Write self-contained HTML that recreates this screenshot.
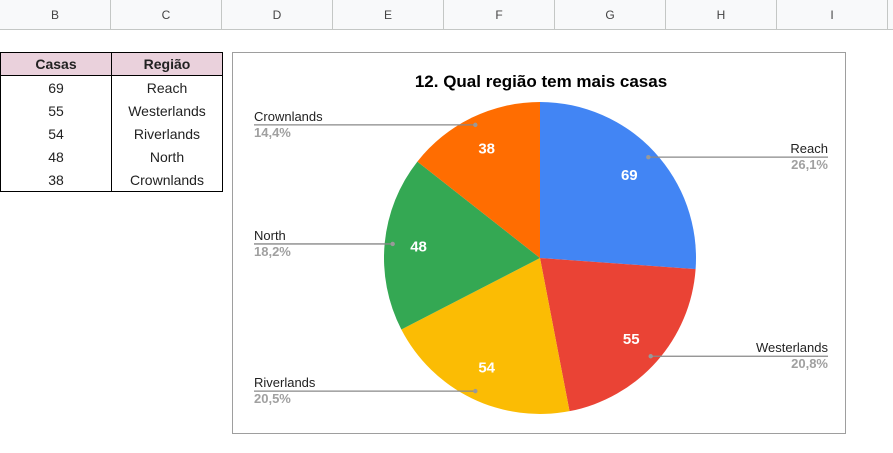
<!DOCTYPE html>
<html><head><meta charset="utf-8"><style>
body{margin:0;width:893px;height:453px;overflow:hidden;background:#fff;font-family:"Liberation Sans",Arial,sans-serif;position:relative}
.colhdr{position:absolute;top:0;left:0;height:29px;width:893px;background:#f8f9fa;border-bottom:1px solid #c4c7c5}
.colhdr div{position:absolute;top:0;height:29px;line-height:30px;text-align:center;font-size:12px;color:#444;border-right:1px solid #c4c7c5;width:110px}
table{position:absolute;left:0;top:52px;border-collapse:collapse;font-size:14px}
td{width:110px;height:23px;text-align:center;padding:0;border-left:1px solid #000;border-right:1px solid #000;color:#222}
tr.h td{background:#ead1dc;font-weight:bold;border:1px solid #000;height:22px}
tr:last-child td{border-bottom:1px solid #000}
#chart{position:absolute;left:232px;top:52px;width:612px;height:380px;border:1px solid #9e9e9e}
</style></head><body>
<div class="colhdr">
<div style="left:0">B</div>
<div style="left:111px">C</div>
<div style="left:222px">D</div>
<div style="left:333px">E</div>
<div style="left:444px">F</div>
<div style="left:555px">G</div>
<div style="left:666px">H</div>
<div style="left:777px">I</div>
</div>
<table>
<tr class="h"><td>Casas</td><td>Região</td></tr>
<tr><td>69</td><td>Reach</td></tr>
<tr><td>55</td><td>Westerlands</td></tr>
<tr><td>54</td><td>Riverlands</td></tr>
<tr><td>48</td><td>North</td></tr>
<tr><td>38</td><td>Crownlands</td></tr>
</table>
<div id="chart">
<svg id="svg" width="612" height="380" xmlns="http://www.w3.org/2000/svg">
<text x="308" y="34" text-anchor="middle" font-size="17" font-weight="bold" fill="#000">12. Qual região tem mais casas</text>
</svg>
</div>
<script>
const categories=["Reach","Westerlands","Riverlands","North","Crownlands"];
const values=[69,55,54,48,38];
const colors=["#4285f4","#ea4335","#fbbc04","#34a853","#ff6d01"];
const svg=document.getElementById('svg');
const NS="http://www.w3.org/2000/svg";
const cx=307,cy=205,R=156;
const total=values.reduce((a,b)=>a+b,0);
function pt(a,r){return [cx+r*Math.sin(a),cy-r*Math.cos(a)];}
let acc=0;
values.forEach((v,i)=>{
  const a0=acc/total*2*Math.PI;acc+=v;const a1=acc/total*2*Math.PI;
  const p0=pt(a0,R),p1=pt(a1,R);
  const path=document.createElementNS(NS,'path');
  path.setAttribute('d',`M${cx},${cy}L${p0[0]},${p0[1]}A${R},${R} 0 ${a1-a0>Math.PI?1:0} 1 ${p1[0]},${p1[1]}Z`);
  path.setAttribute('fill',colors[i]);
  
  
  svg.appendChild(path);
  const am=(a0+a1)/2;
  const lp=pt(am,122);
  const t=document.createElementNS(NS,'text');
  t.setAttribute('x',lp[0]);t.setAttribute('y',lp[1]+5);
  t.setAttribute('text-anchor','middle');t.setAttribute('font-size','15');t.setAttribute('font-weight','bold');t.setAttribute('fill','#fff');
  t.textContent=v;
  
  
  svg.appendChild(t);
  const dp=pt(am,148);
  const right=Math.sin(am)>0;
  const ex=right?595:21;
  const ln=document.createElementNS(NS,'line');
  ln.setAttribute('x1',dp[0]);ln.setAttribute('y1',dp[1]);ln.setAttribute('x2',ex);ln.setAttribute('y2',dp[1]);
  ln.setAttribute('stroke','#888');ln.setAttribute('stroke-width','1.3');
  
  
  svg.appendChild(ln);
  const dot=document.createElementNS(NS,'circle');
  dot.setAttribute('cx',dp[0]);dot.setAttribute('cy',dp[1]);dot.setAttribute('r','2.2');dot.setAttribute('fill','#999');
  
  
  svg.appendChild(dot);
  const n=document.createElementNS(NS,'text');
  n.setAttribute('x',ex);n.setAttribute('y',dp[1]-4);n.setAttribute('text-anchor',right?'end':'start');
  n.setAttribute('font-size','13');n.setAttribute('fill','#222');
  n.textContent=categories[i];
  
  
  svg.appendChild(n);
  const p=document.createElementNS(NS,'text');
  p.setAttribute('x',ex);p.setAttribute('y',dp[1]+12);p.setAttribute('text-anchor',right?'end':'start');
  p.setAttribute('font-size','13');p.setAttribute('font-weight','bold');p.setAttribute('fill','#a0a0a0');
  p.textContent=(v/total*100).toFixed(1).replace('.',',')+'%';
  
  
  svg.appendChild(p);
});
</script>
</body></html>
